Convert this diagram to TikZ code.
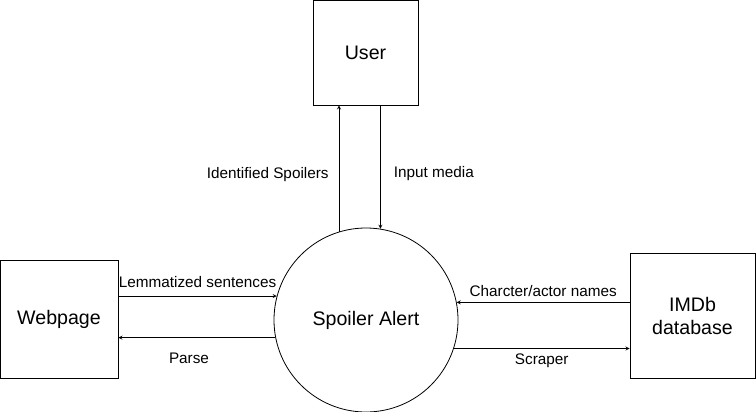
\documentclass[tikz,border=0pt]{standalone}
\usepackage{fontspec}
\setmainfont{Liberation Sans}
\usepackage{tikz}
\usetikzlibrary{arrows,shapes,positioning}
\tikzstyle{flow} = [line width=0.8pt,->,>=stealth,color=black]
\tikzstyle{entity} = [rectangle, draw=black, line width=0.8pt, text centered, align=center, font=\fontsize{19.6}{23}\selectfont]
\tikzstyle{process} = [circle, draw=black, line width=0.8pt, minimum size=184pt, font=\fontsize{19.6}{23}\selectfont]
\tikzstyle{flowlabel} = [font=\fontsize{15.3}{18}\selectfont, inner sep=2pt]

\begin{document}
\begin{tikzpicture}[x=1pt,y=-1pt]
\useasboundingbox (0,0) rectangle (756,412);

% Central process
\node[process] (alert) at (366,320) {Spoiler Alert};

% External entities
\node[entity, minimum width=105pt, minimum height=105pt] (user) at (365.5,52.5) {User};
\node[entity, minimum width=118pt, minimum height=118pt] (web) at (59,319) {Webpage};
\node[entity, minimum width=125pt, minimum height=125pt] (imdb) at (692.5,315.5) {IMDb\\database};

% Flows with the user
\draw[flow] (alert.107) -- (alert.107 |- user.south) node[flowlabel, pos=0.45, left=8pt] {Identified Spoilers};
\draw[flow] (alert.81 |- user.south) -- (alert.81) node[flowlabel, pos=0.55, right=11pt] {Input media};

% Flows with the webpage
\draw[flow] (web.east |- alert.165) -- (alert.165) node[flowlabel, midway, above=6pt] {Lemmatized sentences};
\draw[flow] (alert.191) -- (web.east |- alert.191) node[flowlabel, pos=0.55, below=13pt] {Parse};

% Flows with IMDb
\draw[flow] (imdb.west |- alert.11) -- (alert.11) node[flowlabel, midway, above=3pt] {Charcter/actor names};
\draw[flow] (alert.342) -- (imdb.west |- alert.342) node[flowlabel, midway, below=3pt] {Scraper};
\end{tikzpicture}
\end{document}
